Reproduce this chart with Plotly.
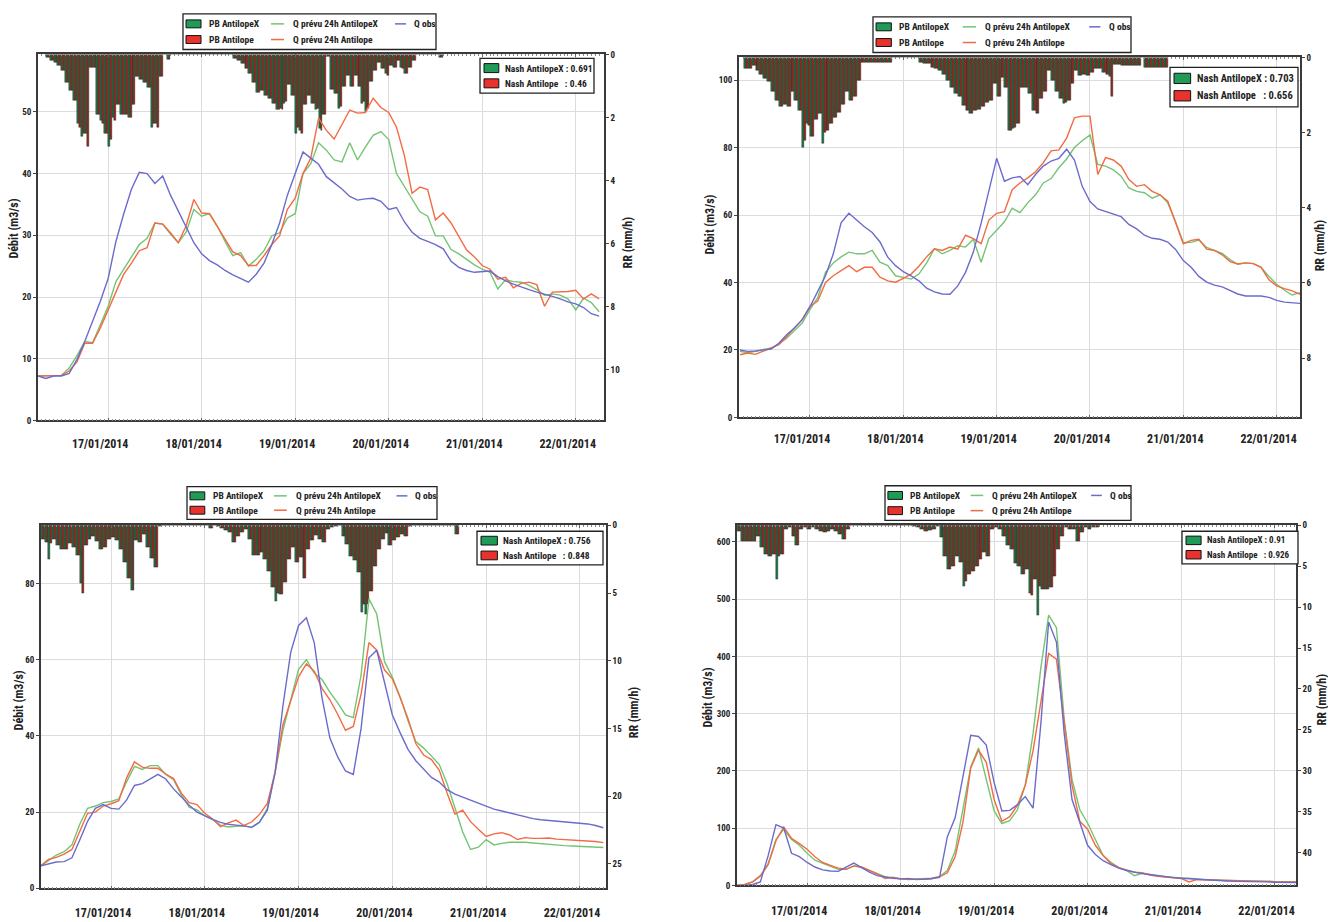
import pandas as pd
import plotly.graph_objects as go

W, H = 1328, 922

# ---------------- data ----------------
FLOW_START = "2014-01-16 06:00"   # flows sampled every 2 hours
RAIN_T0 = "2014-01-16 06:00"      # rain: hourly, offset given per panel (hours)

SERIES_NAMES = ["PB AntilopeX", "PB Antilope", "Q prévu 24h AntilopeX", "Q prévu 24h Antilope", "Q obs"]
NASH_X = [0.691, 0.703, 0.756, 0.91]
NASH_A = [0.46, 0.656, 0.848, 0.926]
DATE_TICKS = ["2014-01-17", "2014-01-18", "2014-01-19", "2014-01-20", "2014-01-21", "2014-01-22"]

# Panel 1
P1_QOBS = [7.2, 6.8, 7.2, 7.2, 7.6, 9.9, 12.8, 16.0, 19.3, 23.0,
           29.0, 33.5, 37.5, 40.2, 40.0, 38.4, 39.6, 36.5, 34.0, 31.5,
           28.8, 27.0, 25.9, 25.2, 24.3, 23.6, 23.0, 22.4, 23.7, 25.5,
           28.5, 32.0, 36.5, 40.0, 43.5, 42.5, 41.5, 39.5, 38.5, 37.5,
           36.3, 35.7, 35.9, 36.0, 35.5, 34.2, 34.5, 32.2, 30.5, 29.5,
           29.0, 28.5, 27.8, 25.8, 24.8, 24.3, 24.0, 24.1, 24.2, 23.3,
           22.6, 22.1, 21.6, 21.2, 20.8, 20.5, 20.1, 19.7, 19.2, 18.9,
           18.3, 17.3, 16.9]
P1_QX = [7.2, 7.2, 7.2, 7.3, 8.5, 10.5, 12.8, 12.6, 15.5, 18.5,
         22.5, 24.5, 26.7, 28.5, 29.5, 32.0, 31.8, 30.2, 28.8, 30.5,
         34.2, 33.1, 33.5, 31.5, 29.0, 26.7, 27.2, 25.0, 26.1, 27.5,
         29.9, 30.4, 32.8, 33.5, 40.0, 41.6, 45.0, 43.8, 42.2, 41.9,
         45.0, 42.2, 44.3, 46.2, 46.8, 45.5, 40.0, 37.9, 35.8, 33.8,
         33.1, 29.9, 29.9, 27.7, 27.0, 26.1, 25.2, 24.5, 24.0, 21.3,
         22.8, 22.5, 22.4, 21.9, 21.2, 20.3, 20.5, 20.3, 19.7, 17.9,
         19.8, 19.1, 17.6]
P1_QA = [7.2, 7.2, 7.2, 7.3, 8.0, 9.5, 12.5, 12.5, 15.0, 18.0,
         21.0, 23.7, 25.5, 27.5, 28.0, 32.0, 31.8, 30.4, 28.8, 31.5,
         35.8, 33.6, 33.5, 31.5, 29.5, 27.3, 26.7, 25.1, 25.1, 26.7,
         28.5, 29.9, 34.2, 36.0, 40.0, 42.5, 49.0, 47.0, 45.6, 48.0,
         50.3, 49.8, 49.9, 52.2, 50.7, 49.9, 47.5, 43.0, 36.8, 37.8,
         37.4, 32.5, 33.6, 32.0, 29.9, 27.6, 26.5, 25.1, 24.5, 22.9,
         23.2, 21.5, 22.2, 22.4, 22.0, 18.5, 20.8, 20.8, 20.9, 21.1,
         19.7, 20.5, 19.7]
P1_RAIN_START_H = 2
P1_PBX = [0.1, 0.2, 0.25, 0.35, 0.5, 0.9, 1.15, 1.45, 2.2, 2.6, 2.5, 0.4, 0.4, 1.9, 2.1, 2.5,
          2.9, 2.0, 1.6, 1.9, 1.9, 2.0, 1.6, 0.7, 0.8, 0.9, 1.05, 2.3, 2.2, 0.7, 0, 0.15,
          0, 0, 0, 0, 0, 0, 0, 0, 0, 0, 0, 0, 0, 0, 0, 0,
          0.12, 0.2, 0.3, 0.45, 0.6, 0.9, 1.2, 1.15, 1.3, 1.4, 1.55, 1.75, 1.7, 1.55, 0.95, 1.3,
          2.5, 2.4, 1.6, 1.3, 1.55, 1.75, 2.35, 1.9, 0.05, 1.1, 1.25, 1.7, 1.0, 0.65, 1.0, 0.65,
          1.0, 1.55, 1.8, 0.85, 0.5, 0.25, 0.45, 0.6, 0.35, 0.4, 0.2, 0.4, 0.6, 0.4, 0.2, 0,
          0, 0, 0, 0, 0, 0.1]
P1_PBA = [0.1, 0.2, 0.25, 0.35, 0.5, 0.9, 1.15, 1.45, 2.3, 2.5, 2.9, 0.4, 0.4, 1.9, 2.2, 2.5,
          2.7, 2.1, 1.6, 1.9, 1.9, 2.0, 1.6, 0.7, 0.8, 0.9, 1.05, 2.2, 2.3, 0.7, 0, 0.15,
          0, 0, 0, 0, 0, 0, 0, 0, 0, 0, 0, 0, 0, 0, 0, 0,
          0.12, 0.2, 0.3, 0.45, 0.6, 0.9, 1.2, 1.15, 1.3, 1.4, 1.55, 1.75, 1.75, 1.5, 0.95, 1.3,
          2.3, 2.5, 1.6, 1.3, 1.55, 1.7, 2.4, 1.9, 0.05, 1.1, 1.25, 1.65, 1.0, 0.65, 1.0, 0.65,
          1.0, 1.5, 1.7, 0.85, 0.5, 0.25, 0.45, 0.65, 0.35, 0.4, 0.2, 0.45, 0.6, 0.4, 0.2, 0,
          0, 0, 0, 0, 0, 0.1]

# Panel 2
P2_QOBS = [20, 19.6, 19.7, 20, 20.3, 22, 24.5, 26.5, 29, 32.8,
           37.5, 42, 48.5, 57.7, 60.5, 58.5, 56.5, 54.8, 52, 47.5,
           45, 43.2, 42, 40.5, 38.3, 37.2, 36.6, 36.5, 39, 43,
           49, 57.5, 67, 76.8, 70, 71, 71.4, 69, 72, 74.5,
           76, 76.8, 79.5, 76.3, 68.5, 64, 61.8, 61, 60.3, 59.5,
           57.2, 55.9, 54, 53.1, 52.8, 52, 49.8, 46.5, 44.5, 41.8,
           40.1, 39.2, 38.7, 37.6, 36.6, 36, 36, 36, 35.6, 34.7,
           34.2, 34, 33.8]
P2_QX = [19.6, 19.2, 19.6, 20.2, 20.5, 21.8, 23.5, 25.7, 28, 32,
         35.5, 43, 45.8, 47.6, 49, 48.5, 48.5, 49.5, 46, 45,
         42, 41.5, 41, 42.5, 45.8, 50, 48.5, 49.5, 50.9, 50.5,
         52.8, 46, 53, 55.5, 58, 62, 60.7, 63.6, 66, 69.5,
         70.8, 74, 76.6, 80, 82, 83.7, 75, 74.5, 73.4, 71.5,
         68, 67, 66.6, 65, 66, 63.6, 58, 51.8, 51.9, 52.6,
         50.4, 49.5, 48.6, 46.8, 45.4, 45.8, 45.6, 44.5, 41.8, 39.5,
         37.7, 36.3, 37]
P2_QA = [18.6, 19.1, 18.7, 19.6, 20.5, 21.6, 24, 26.5, 29, 33,
         34.5, 40, 42, 43.5, 45, 43.2, 44.5, 44.5, 41.6, 40.5,
         40.1, 41.2, 42.5, 44.8, 47.6, 50, 49.5, 50.5, 49.9, 54,
         53, 51.5, 58.5, 60.5, 61, 67.5, 69.5, 71, 72.8, 75.5,
         79, 79.3, 82.8, 88.8, 89.3, 89.3, 72, 77, 76.3, 74.5,
         70.5, 68.5, 69, 67, 66, 64.1, 57.5, 51.5, 52.5, 52.8,
         49.9, 49.5, 48.2, 46.2, 45.5, 45.8, 45.6, 44.5, 40.8, 39,
         38.2, 37.5, 36.5]
P2_RAIN_START_H = 1
P2_PBX = [0.3, 0.3, 0.22, 0.35, 0.45, 0.55, 0.65, 0.9, 1.15, 1.3, 1.25, 1.3, 0.9, 1.15, 1.4, 2.4,
          1.75, 2.1, 1.65, 1.5, 2.3, 1.95, 1.75, 1.6, 1.45, 1.25, 0.9, 1.15, 1.05, 0.6,
          0.13, 0.13, 0.13, 0.13, 0.13, 0.13, 0.13, 0.13,
          0, 0, 0, 0, 0, 0, 0,
          0.13, 0.15, 0.17, 0.26, 0.3, 0.35, 0.45, 0.6, 0.8, 0.95, 1.05, 1.27, 1.4, 1.5, 1.4, 1.38,
          1.3, 1.2, 1.14, 0.7, 1.05, 0.53, 0.8, 1.95, 1.9, 1.75, 0.8, 0.8, 0.95, 1.4, 1.5, 1.1,
          0.9, 0.35, 0.6, 0.9, 1.1, 1.23, 1.14, 0.7, 0.35, 0.48, 0.44, 0.48, 0.4, 0.3, 0.3, 0.4,
          0.44, 0.5, 0.18, 0.18, 0.2, 0.2, 0.2, 0.2, 0.2, 0, 0.26, 0.26, 0.26, 0.26, 0.26, 0.26]
P2_PBA = [0.3, 0.3, 0.22, 0.35, 0.45, 0.55, 0.65, 0.9, 1.15, 1.3, 1.25, 1.3, 0.9, 1.15, 1.4, 2.2,
          1.8, 2.1, 1.65, 1.5, 2.0, 1.95, 1.75, 1.6, 1.45, 1.25, 0.9, 1.15, 1.05, 0.6,
          0.13, 0.13, 0.13, 0.13, 0.13, 0.13, 0.13, 0.13,
          0, 0, 0, 0, 0, 0, 0,
          0.13, 0.15, 0.17, 0.26, 0.3, 0.35, 0.45, 0.6, 0.8, 0.95, 1.05, 1.27, 1.4, 1.5, 1.4, 1.38,
          1.3, 1.2, 1.14, 0.7, 1.05, 0.53, 0.8, 1.95, 1.85, 1.75, 0.8, 0.8, 0.95, 1.4, 1.5, 1.1,
          0.9, 0.35, 0.6, 0.9, 1.1, 1.2, 1.14, 0.7, 0.35, 0.48, 0.44, 0.48, 0.4, 0.3, 0.3, 0.4,
          0.44, 1.05, 0.18, 0.18, 0.2, 0.2, 0.2, 0.2, 0.2, 0, 0.26, 0.26, 0.26, 0.26, 0.26, 0.26]

# Panel 3
P3_QOBS = [5.9, 6.4, 6.9, 7.0, 8.0, 12.7, 17.6, 21, 22, 21,
           20.8, 23.2, 27, 27.5, 28.7, 29.9, 28.7, 26.1, 24, 21.8,
           20, 19, 18.1, 17.3, 16.8, 16.6, 16.4, 16, 17.4, 20.5,
           30.5, 48, 62, 69, 71, 64.5, 50, 39.5, 34.5, 30.8,
           29.9, 42, 60.5, 62.5, 54, 45.5, 40.8, 36.5, 33.5, 31.2,
           29.1, 27.9, 25.9, 24.7, 23.9, 23.1, 22.3, 21.5, 20.8, 20.3,
           19.8, 19.1, 18.6, 18.3, 18, 17.8, 17.6, 17.4, 17.3, 17.1,
           16.9, 16.5, 15.9]
P3_QX = [5.9, 7.4, 8.7, 9.6, 11.4, 16.8, 21, 21.6, 22.5, 22.8,
         23.5, 28, 32, 31.2, 32.2, 32.2, 29.9, 28.5, 24.5, 21.3,
         20.6, 19, 18.1, 16.6, 16.1, 16.3, 16.4, 16, 17.3, 21,
         30.5, 41.5, 49.8, 57.5, 60, 56.5, 54.8, 51.5, 48.7, 45.5,
         44.8, 56, 76, 72, 59.5, 55.4, 50.2, 44, 38.5, 36.8,
         34.7, 32.5, 27.5, 21, 14.8, 10.2, 10.8, 12.8, 11.4, 11.8,
         12.1, 12.1, 12.1, 11.9, 11.7, 11.5, 11.3, 11.2, 11.1, 11,
         10.9, 10.8, 10.7]
P3_QA = [5.9, 7.6, 8.1, 9, 10.2, 15.2, 19.7, 20, 21.6, 22.2,
         23, 29, 33.2, 31.8, 31.5, 31.5, 30, 28.8, 25, 22.5,
         22, 19.7, 18.2, 16.2, 17.2, 17.9, 16.5, 17.4, 19.4, 22.3,
         30.5, 43, 49, 55.5, 58.9, 57, 52.5, 49.5, 45.7, 41.5,
         42.5, 51, 64.5, 62.5, 57.3, 55, 50, 44.5, 38, 35,
         33.8, 31, 25, 19.5, 20.5, 17.5, 15.5, 13.6, 14.3, 14.6,
         14, 12.8, 13.3, 13.1, 13.1, 13.2, 12.9, 12.8, 12.7, 12.6,
         12.4, 12.3, 12]
P3_RAIN_START_H = 0
P3_PBX = [1.0, 1.25, 2.5, 1.0, 1.5, 1.75, 1.75, 1.3, 1.6, 2.2, 4.3, 1.5, 1.0, 0.8, 1.2, 1.75,
          1.6, 1.0, 0.9, 1.1, 1.75, 2.7, 3.9, 4.8, 1.1, 1.25, 0.65, 1.6, 2.4, 3.1, 0.1, 0,
          0, 0, 0, 0, 0, 0, 0, 0, 0, 0, 0,
          0.25, 0, 0.1, 0.2, 0.4, 0.55, 1.25, 0.8, 0.5, 0.3, 1.0, 2.2, 2.2, 2.0, 2.5, 3.4,
          4.6, 5.6, 5.1, 4.2, 2.5, 1.6, 2.7, 2.35, 3.9, 1.8, 1.1, 0.75, 1.0, 1.25, 0.3, 0.17,
          0.05, 0, 0.8, 1.4, 2.3, 2.6, 3.5, 6.4, 6.6, 4.9, 3.0, 1.8, 1.0, 0.6, 1.5, 1.1,
          0.9, 0.7, 0.8, 0.1, 0, 0, 0, 0, 0, 0, 0, 0, 0, 0, 0, 0.65]
P3_PBA = [1.0, 1.25, 1.3, 1.0, 1.5, 1.75, 1.75, 1.3, 1.6, 2.2, 5.0, 1.5, 1.0, 0.8, 1.2, 1.75,
          1.6, 1.0, 0.9, 1.1, 1.75, 2.7, 3.9, 4.8, 1.1, 1.25, 0.65, 1.6, 2.4, 3.1, 0.1, 0,
          0, 0, 0, 0, 0, 0, 0, 0, 0, 0, 0,
          0.25, 0, 0.1, 0.2, 0.4, 0.55, 1.25, 0.8, 0.5, 0.3, 1.0, 2.2, 2.2, 2.0, 2.5, 3.4,
          4.6, 5.0, 5.1, 4.2, 2.5, 1.6, 2.7, 2.35, 3.9, 1.8, 1.1, 0.75, 1.0, 1.25, 0.3, 0.17,
          0.05, 0, 0.8, 1.4, 2.3, 2.6, 3.5, 5.8, 5.8, 4.9, 3.0, 1.8, 1.0, 0.6, 1.5, 1.1,
          0.9, 0.7, 0.8, 0.1, 0, 0, 0, 0, 0, 0, 0, 0, 0, 0, 0, 0.65]

# Panel 4
P4_QOBS = [0, 0, 1.5, 6, 52, 106, 100, 56, 50, 40,
           32, 27, 25, 24.5, 32, 39, 31, 23, 17, 14.5,
           12.5, 11.5, 11, 10, 10.5, 12, 14, 85, 118, 190,
           262, 260, 245, 180, 130, 131, 141, 155, 135, 282,
           460, 425, 265, 150, 108, 70, 54, 43, 36, 30,
           26, 23, 20.5, 19, 17, 15, 13.5, 12.5, 11.5, 10.5,
           10, 9, 8, 7.5, 7, 7, 6.5, 6, 6, 5.5,
           5.5, 5, 5]
P4_QX = [0, 1.5, 6, 17, 38, 80, 98, 80, 70, 56,
         44, 38, 33, 28, 28, 34, 31, 26, 20, 15,
         13, 11.5, 10, 11, 11.5, 12.5, 15.5, 26, 60, 135,
         207, 240, 185, 130, 108, 113, 132, 175, 265, 380,
         472, 450, 290, 185, 132, 109, 80, 52, 40, 31,
         26, 17, 21, 18.5, 16.5, 15, 13.5, 13, 12.5, 11,
         10, 9.5, 9, 8.5, 8, 8, 7.5, 7, 7, 6.5,
         6.5, 6, 6]
P4_QA = [0, 1.5, 6, 16, 36, 78, 102, 82, 73, 63,
         50, 40, 35, 30, 28, 34, 32, 26, 20, 12,
         14, 11, 12, 10, 11, 11.5, 15, 22, 50, 110,
         205, 236, 215, 150, 112, 120, 140, 175, 235, 320,
         405, 395, 280, 175, 112, 98, 70, 52, 38, 31,
         27, 23, 22, 18, 16, 14.5, 13.5, 12, 6, 10,
         9.5, 9.5, 9, 8.5, 8, 8, 7.5, 7, 7, 6.5,
         6.5, 6, 6]
P4_RAIN_START_H = 0
P4_PBX = [0.7, 1.9, 1.9, 1.9, 1.9, 1.3, 2.7, 3.5, 3.75, 3.5, 6.6, 3.5, 0.5, 0.3, 1.3, 2.5,
          0.5, 0.3, 0.5, 0.3, 0.5, 0.7, 0.9, 0.7, 0.5, 0.7, 1.1, 1.7, 0.5,
          0, 0, 0, 0, 0, 0, 0, 0, 0, 0, 0, 0, 0, 0, 0, 0,
          0.1, 0.3, 0.5, 0.7, 0.6, 0.5, 0.1, 1.5, 3.75, 5.4, 5.0, 3.75, 4.5, 7.4, 6.0, 5.6,
          5.0, 4.2, 3.3, 3.75, 0.5, 0.3, 0.5, 1.4, 2.5, 2.9, 4.6, 5.0, 6.0, 5.4, 8.3, 6.6,
          11.0, 7.8, 7.8, 7.6, 6.2, 2.9, 1.3, 0.3, 0.5, 0.5, 1.9, 0.9, 0.3, 0.5, 0.3, 0.2]
P4_PBA = [0.7, 1.9, 1.9, 1.9, 1.9, 1.3, 2.7, 3.5, 3.75, 3.5, 3.8, 3.5, 0.5, 0.3, 1.3, 2.5,
          0.5, 0.3, 0.5, 0.3, 0.5, 0.7, 0.9, 0.7, 0.5, 0.7, 1.1, 1.7, 0.5,
          0, 0, 0, 0, 0, 0, 0, 0, 0, 0, 0, 0, 0, 0, 0, 0,
          0.1, 0.3, 0.5, 0.7, 0.6, 0.5, 0.1, 1.5, 3.75, 5.4, 5.0, 3.75, 4.5, 6.8, 6.0, 5.6,
          5.0, 4.2, 3.3, 3.75, 0.5, 0.3, 0.5, 1.4, 2.5, 2.9, 4.6, 5.0, 6.0, 5.4, 8.6, 6.6,
          7.5, 7.8, 7.8, 7.6, 6.2, 2.9, 1.3, 0.3, 0.5, 0.5, 1.9, 0.9, 0.3, 0.5, 0.3, 0.2]

# ---------------- styling / layout ----------------
FONT = "Liberation Sans Narrow, Roboto Condensed, Open Sans, sans-serif"
C_BAR_X, C_BAR_A = "#1f7a46", "#962c23"
C_PATCH_X, C_PATCH_A = "#1f9b57", "#e8322e"
C_QX, C_QA, C_QOBS = "#74c474", "#f26b43", "#6b6bcc"
FRAME = "#3a3a3a"
GRID = "#dcdcdc"

PANELS = [
    dict(qobs=P1_QOBS, qx=P1_QX, qa=P1_QA, pbx=P1_PBX, pba=P1_PBA, rs=P1_RAIN_START_H,
         xpx=(38, 604), ypx=(50, 420), fmax=59.3, fdt=10, rmax=11.6, rdt=2,
         xr=("2014-01-16 06:00", "2014-01-22 07:15"),
         leg=(183, 9, 253, 36), nash=(480, 54, 114, 35), nfs=9.5,
         deb=(14, 226), rr=(628, 240), stand=11),
    dict(qobs=P2_QOBS, qx=P2_QX, qa=P2_QA, pbx=P2_PBX, pba=P2_PBA, rs=P2_RAIN_START_H,
         xpx=(739, 1300), ypx=(53, 417), fmax=106.7, fdt=20, rmax=9.58, rdt=2,
         xr=("2014-01-16 05:45", "2014-01-22 06:00"),
         leg=(873, 12, 258, 36), nash=(1170, 63, 128, 40), nfs=10.5,
         deb=(710, 222), rr=(1320, 243), stand=9),
    dict(qobs=P3_QOBS, qx=P3_QX, qa=P3_QA, pbx=P3_PBX, pba=P3_PBA, rs=P3_RAIN_START_H,
         xpx=(41, 606), ypx=(526, 893), fmax=95.3, fdt=20, rmax=26.8, rdt=5,
         xr=("2014-01-16 06:05", "2014-01-22 06:40"),
         leg=(187, 487, 250, 33), nash=(477, 532, 126, 34), nfs=9.5,
         deb=(19, 703), rr=(634, 715), stand=12),
    dict(qobs=P4_QOBS, qx=P4_QX, qa=P4_QA, pbx=P4_PBX, pba=P4_PBA, rs=P4_RAIN_START_H,
         xpx=(737, 1296), ypx=(526, 890), fmax=629, fdt=100, rmax=44, rdt=5,
         xr=("2014-01-16 06:00", "2014-01-22 05:30"),
         leg=(885, 486, 246, 35), nash=(1182, 532, 116, 33), nfs=9,
         deb=(708, 700), rr=(1322, 702), stand=13),
]


def px(x):
    return x / W


def py(y):
    return 1 - y / H


HOUR_MS = 3600 * 1000
fig = go.Figure()
shapes, annots = [], []
lay = {}

for k, p in enumerate(PANELS):
    xid = "x" if k == 0 else f"x{k + 1}"
    fid = "y" if k == 0 else f"y{2 * k + 1}"
    rid = f"y{2 * k + 2}"
    xkey = "xaxis" if k == 0 else f"xaxis{k + 1}"
    fkey = "yaxis" if k == 0 else f"yaxis{2 * k + 1}"
    rkey = f"yaxis{2 * k + 2}"

    ft = pd.date_range(FLOW_START, periods=len(p["qobs"]), freq="2h")
    rt = pd.date_range(pd.Timestamp(RAIN_T0) + pd.Timedelta(hours=p["rs"]),
                       periods=len(p["pbx"]), freq="h")

    fig.add_trace(go.Bar(x=rt, y=p["pbx"], xaxis=xid, yaxis=rid, name=SERIES_NAMES[0],
                         width=0.5 * HOUR_MS, offset=0.0,
                         marker=dict(color=C_BAR_X, line=dict(color="#151515", width=0.4)),
                         showlegend=False))
    fig.add_trace(go.Bar(x=rt, y=p["pba"], xaxis=xid, yaxis=rid, name=SERIES_NAMES[1],
                         width=0.5 * HOUR_MS, offset=0.5 * HOUR_MS,
                         marker=dict(color=C_BAR_A, line=dict(color="#151515", width=0.4)),
                         showlegend=False))
    fig.add_trace(go.Scatter(x=ft, y=p["qx"], xaxis=xid, yaxis=fid, mode="lines",
                             name=SERIES_NAMES[2], line=dict(color=C_QX, width=1.4), showlegend=False))
    fig.add_trace(go.Scatter(x=ft, y=p["qa"], xaxis=xid, yaxis=fid, mode="lines",
                             name=SERIES_NAMES[3], line=dict(color=C_QA, width=1.4), showlegend=False))
    fig.add_trace(go.Scatter(x=ft, y=p["qobs"], xaxis=xid, yaxis=fid, mode="lines",
                             name=SERIES_NAMES[4], line=dict(color=C_QOBS, width=1.4), showlegend=False))

    x0, x1 = p["xpx"]
    y0, y1 = p["ypx"]
    tickfont = dict(family=FONT, size=9, color="#222", weight=700)
    lay[xkey] = dict(domain=[px(x0), px(x1)], anchor=rid, type="date", range=list(p["xr"]),
                     tickvals=DATE_TICKS, tickformat="%d/%m/%Y",
                     showgrid=True, gridcolor=GRID, gridwidth=1, zeroline=False,
                     showline=True, linecolor=FRAME, linewidth=1.6, mirror="ticks",
                     ticks="inside", ticklen=3, tickcolor="#666",
                     minor=dict(dtick=HOUR_MS, tick0="2014-01-16", ticks="inside", ticklen=2,
                                tickcolor="#888", showgrid=False),
                     tickfont=dict(family=FONT, size=12, color="#222", weight=700),
                     ticklabelshift=-8, ticklabelstandoff=p["stand"])
    lay[rkey] = dict(domain=[py(y1), py(y0)], anchor=xid, side="right",
                     range=[p["rmax"], 0], tick0=0, dtick=p["rdt"],
                     showgrid=False, zeroline=False, showline=True, linecolor=FRAME, linewidth=1.6,
                     ticks="outside", ticklen=3, tickcolor="#444", tickfont=tickfont)
    lay[fkey] = dict(overlaying=rid, anchor=xid, side="left",
                     range=[0, p["fmax"]], tick0=0, dtick=p["fdt"],
                     showgrid=True, gridcolor=GRID, gridwidth=1, zeroline=False,
                     showline=True, linecolor=FRAME, linewidth=1.6,
                     ticks="outside", ticklen=3, tickcolor="#444", tickfont=tickfont)

    # axis titles
    annots.append(dict(x=px(p["deb"][0]), y=py(p["deb"][1]), xref="paper", yref="paper",
                       xanchor="center", yanchor="middle",
                       text="Débit (m3/s)", textangle=-90, showarrow=False,
                       font=dict(family=FONT, size=12, color="#222", weight=700)))
    annots.append(dict(x=px(p["rr"][0]), y=py(p["rr"][1]), xref="paper", yref="paper",
                       xanchor="center", yanchor="middle",
                       text="RR (mm/h)", textangle=-90, showarrow=False,
                       font=dict(family=FONT, size=12, color="#222", weight=700)))

    # main legend box (drawn)
    lx, ly, lw, lh = p["leg"]
    s = lw / 253.0
    shapes.append(dict(type="rect", xref="paper", yref="paper",
                       x0=px(lx), x1=px(lx + lw), y0=py(ly + lh), y1=py(ly),
                       line=dict(color="#222", width=1.3), fillcolor="white", layer="above"))
    rows = [ly + lh * 0.28, ly + lh * 0.72]
    lfont = dict(family=FONT, size=9.5, color="#222", weight=700)
    for r, col, nm in [(rows[0], C_PATCH_X, SERIES_NAMES[0]), (rows[1], C_PATCH_A, SERIES_NAMES[1])]:
        shapes.append(dict(type="rect", xref="paper", yref="paper",
                           x0=px(lx + 3 * s), x1=px(lx + 18 * s), y0=py(r + 4), y1=py(r - 4),
                           line=dict(color="#111", width=1), fillcolor=col, layer="above"))
        annots.append(dict(x=px(lx + 24 * s), y=py(r), xref="paper", yref="paper", text=nm,
                           xanchor="left", yanchor="middle", showarrow=False, font=lfont))
    for r, xs, xe, xt, col, nm in [
        (rows[0], 88, 101, 108, C_QX, SERIES_NAMES[2]),
        (rows[1], 88, 101, 108, C_QA, SERIES_NAMES[3]),
        (rows[0], 212, 223, 229, C_QOBS, SERIES_NAMES[4]),
    ]:
        shapes.append(dict(type="line", xref="paper", yref="paper",
                           x0=px(lx + xs * s), x1=px(lx + xe * s), y0=py(r), y1=py(r),
                           line=dict(color=col, width=1.5), layer="above"))
        annots.append(dict(x=px(lx + xt * s), y=py(r), xref="paper", yref="paper", text=nm,
                           xanchor="left", yanchor="middle", showarrow=False, font=lfont))

    # Nash legend box
    nx, ny, nw, nh = p["nash"]
    shapes.append(dict(type="rect", xref="paper", yref="paper",
                       x0=px(nx), x1=px(nx + nw), y0=py(ny + nh), y1=py(ny),
                       line=dict(color="#222", width=1.3), fillcolor="white", layer="above"))
    nrows = [ny + nh * 0.28, ny + nh * 0.72]
    pw = nw * 0.13
    nfont = dict(family=FONT, size=p["nfs"], color="#222", weight=700)
    for r, col, txt in [
        (nrows[0], C_PATCH_X, f"Nash AntilopeX : {NASH_X[k]}"),
        (nrows[1], C_PATCH_A, f"Nash Antilope\u00a0\u00a0\u00a0: {NASH_A[k]}"),
    ]:
        shapes.append(dict(type="rect", xref="paper", yref="paper",
                           x0=px(nx + 4), x1=px(nx + 4 + pw), y0=py(r + nh * 0.13), y1=py(r - nh * 0.13),
                           line=dict(color="#111", width=1), fillcolor=col, layer="above"))
        annots.append(dict(x=px(nx + 8 + pw), y=py(r), xref="paper", yref="paper", text=txt,
                           xanchor="left", yanchor="middle", showarrow=False, font=nfont))

fig.update_layout(
    width=W, height=H, margin=dict(l=0, r=0, t=0, b=0),
    paper_bgcolor="white", plot_bgcolor="white",
    barmode="overlay", bargap=0, showlegend=False,
    shapes=shapes, annotations=annots,
    font=dict(family=FONT, size=10, color="#222"),
    **lay,
)

fig.write_html("out.html", config={"displayModeBar": False},
               post_script="document.body.style.margin='0';")
